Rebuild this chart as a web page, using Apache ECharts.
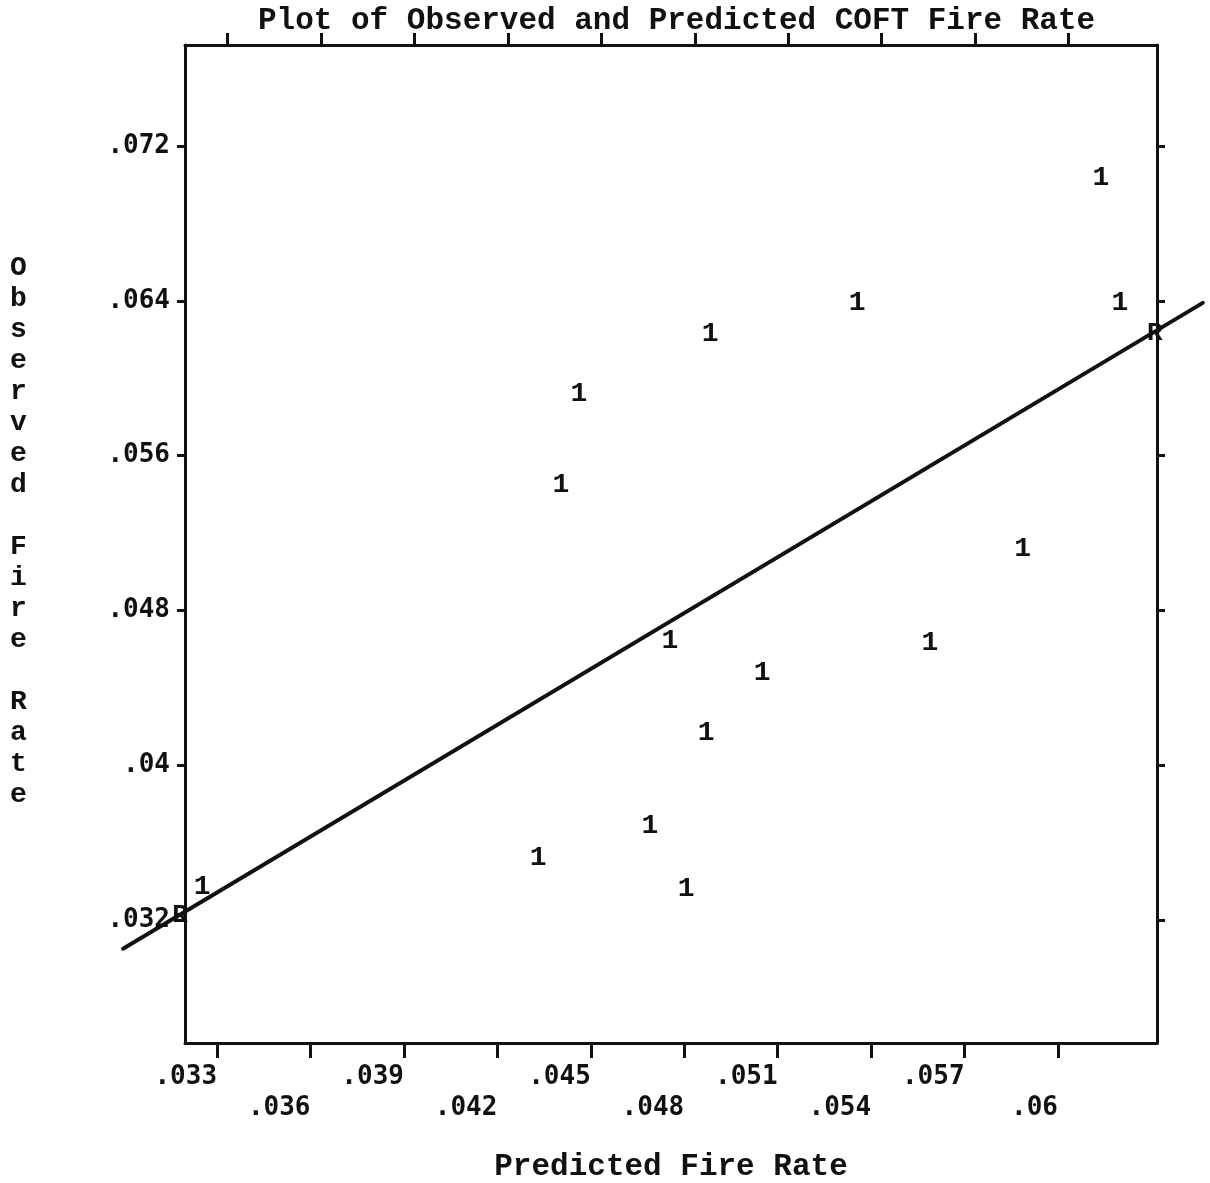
<!DOCTYPE html>
<html>
<head>
<meta charset="utf-8">
<title>Plot of Observed and Predicted COFT Fire Rate</title>
<script src="https://cdn.jsdelivr.net/npm/echarts@6/dist/echarts.min.js"></script>
<style>
  html, body { margin: 0; padding: 0; background: #fff; }
  #main { width: 1210px; height: 1183px; }
</style>
</head>
<body>
<div id="main"></div>
<script>
// 观测点（预测值, 观测值）
const predX = [0.03252, 0.04331, 0.04404, 0.04462, 0.04690, 0.04754, 0.04806, 0.04870,
  0.04883, 0.05050, 0.05355, 0.05589, 0.05887, 0.06138, 0.06199]
const obsY = [0.03371, 0.03521, 0.05449, 0.05920, 0.03687, 0.04640, 0.03361, 0.04164,
  0.06231, 0.04475, 0.06392, 0.04630, 0.05117, 0.07034, 0.06392]

// 回归线两端
const lineX = [0.02998, 0.06465]
const lineY = [0.0305, 0.0639]

// 回归线与边框交点的 R 标记
const rX = [0.03181, 0.06311]
const rY = [0.0322, 0.0623]

// 刻度
const xTicks = [0.033, 0.036, 0.039, 0.042, 0.045, 0.048, 0.051, 0.054, 0.057, 0.06]
const xLabels = ['.033', '.036', '.039', '.042', '.045', '.048', '.051', '.054', '.057', '.06']
const topTicks = [0.03334, 0.03634, 0.03934, 0.04234, 0.04534, 0.04834, 0.05134, 0.05434, 0.05734, 0.06034]
const yTicks = [0.032, 0.04, 0.048, 0.056, 0.064, 0.072]
const yLabels = ['.032', '.04', '.048', '.056', '.064', '.072']

const ink = '#111'
const mono = "'Courier New', 'Liberation Mono', monospace"
const digits = "'DejaVu Sans Mono', monospace"

function pick(ticks, labels, v) {
  const i = ticks.findIndex(t => Math.abs(t - v) < 1e-7)
  return i < 0 ? '' : labels[i]
}

const myChart = echarts.init(document.querySelector('#main'))

const axisLine = { show: true, lineStyle: { color: ink, width: 3 } }

option = {
  backgroundColor: '#fff',
  animation: false,
  title: {
    text: 'Plot of Observed and Predicted COFT Fire Rate',
    left: 258,
    top: 6,
    padding: 0,
    textStyle: { fontFamily: mono, fontWeight: 'bold', fontSize: 31, color: ink }
  },
  // y轴名称，竖排逐字
  graphic: [
    {
      type: 'text',
      left: 10,
      top: 252,
      style: {
        text: 'Observed Fire Rate'.split('').join('\n'),
        font: "bold 28px 'Courier New', 'Liberation Mono', monospace",
        lineHeight: 31,
        fill: ink,
        align: 'left'
      }
    }
  ],
  grid: { left: 185, right: 53, top: 45, bottom: 140, outerBoundsMode: 'none' },
  xAxis: [
    {
      type: 'value',
      position: 'bottom',
      min: 0.03197,
      max: 0.06318,
      name: 'Predicted Fire Rate',
      nameLocation: 'middle',
      nameGap: 109,
      nameTextStyle: { fontFamily: mono, fontWeight: 'bold', fontSize: 31, color: ink },
      axisLine,
      axisTick: { show: true, inside: false, length: 15, customValues: xTicks, lineStyle: { color: ink, width: 3 } },
      axisLabel: {
        show: true,
        customValues: xTicks,
        align: 'right',
        margin: 19,
        lineHeight: 31,
        fontFamily: digits,
        fontWeight: 'bold',
        fontSize: 26,
        color: ink,
        formatter: v => {
          const i = xTicks.findIndex(t => Math.abs(t - v) < 1e-7)
          return i % 2 ? '\n' + xLabels[i] : xLabels[i]
        }
      },
      splitLine: { show: false }
    },
    {
      type: 'value',
      position: 'top',
      min: 0.03197,
      max: 0.06318,
      axisLine,
      axisTick: { show: true, inside: false, length: 12, customValues: topTicks, lineStyle: { color: ink, width: 3 } },
      axisLabel: { show: false },
      splitLine: { show: false }
    }
  ],
  yAxis: [
    {
      type: 'value',
      position: 'left',
      min: 0.025627,
      max: 0.077233,
      axisLine,
      axisTick: { show: true, inside: false, length: 8, customValues: yTicks, lineStyle: { color: ink, width: 3 } },
      axisLabel: {
        show: true,
        customValues: yTicks,
        margin: 15,
        fontFamily: digits,
        fontWeight: 'bold',
        fontSize: 26,
        color: ink,
        formatter: v => pick(yTicks, yLabels, v)
      },
      splitLine: { show: false }
    },
    {
      type: 'value',
      position: 'right',
      min: 0.025627,
      max: 0.077233,
      axisLine,
      axisTick: { show: true, inside: false, length: 8, customValues: yTicks, lineStyle: { color: ink, width: 3 } },
      axisLabel: { show: false },
      splitLine: { show: false }
    }
  ],
  series: [
    {
      // 回归线，两端伸出边框
      type: 'custom',
      data: [[lineX[0], lineY[0], lineX[1], lineY[1]]],
      encode: { x: [0, 2], y: [1, 3] },
      clip: false,
      renderItem: (params, api) => {
        const p0 = api.coord([api.value(0), api.value(1)])
        const p1 = api.coord([api.value(2), api.value(3)])
        return {
          type: 'line',
          shape: { x1: p0[0], y1: p0[1], x2: p1[0], y2: p1[1] },
          style: { stroke: ink, lineWidth: 4, lineCap: 'round' }
        }
      },
      z: 2
    },
    {
      // 观测点，用字符 1 标记
      type: 'scatter',
      data: predX.map((x, i) => [x, obsY[i]]),
      symbolSize: 2,
      itemStyle: { color: 'rgba(0,0,0,0)', opacity: 1 },
      label: {
        show: true,
        position: 'inside',
        formatter: '1',
        fontFamily: mono,
        fontWeight: 'bold',
        fontSize: 28,
        color: ink
      },
      z: 3
    },
    {
      type: 'scatter',
      data: rX.map((x, i) => [x, rY[i]]),
      symbolSize: 2,
      clip: false,
      itemStyle: { color: 'rgba(0,0,0,0)', opacity: 1 },
      label: {
        show: true,
        position: 'inside',
        formatter: 'R',
        fontFamily: mono,
        fontWeight: 'bold',
        fontSize: 26,
        color: ink
      },
      z: 4
    }
  ]
}

myChart.setOption(option)
</script>
</body>
</html>
